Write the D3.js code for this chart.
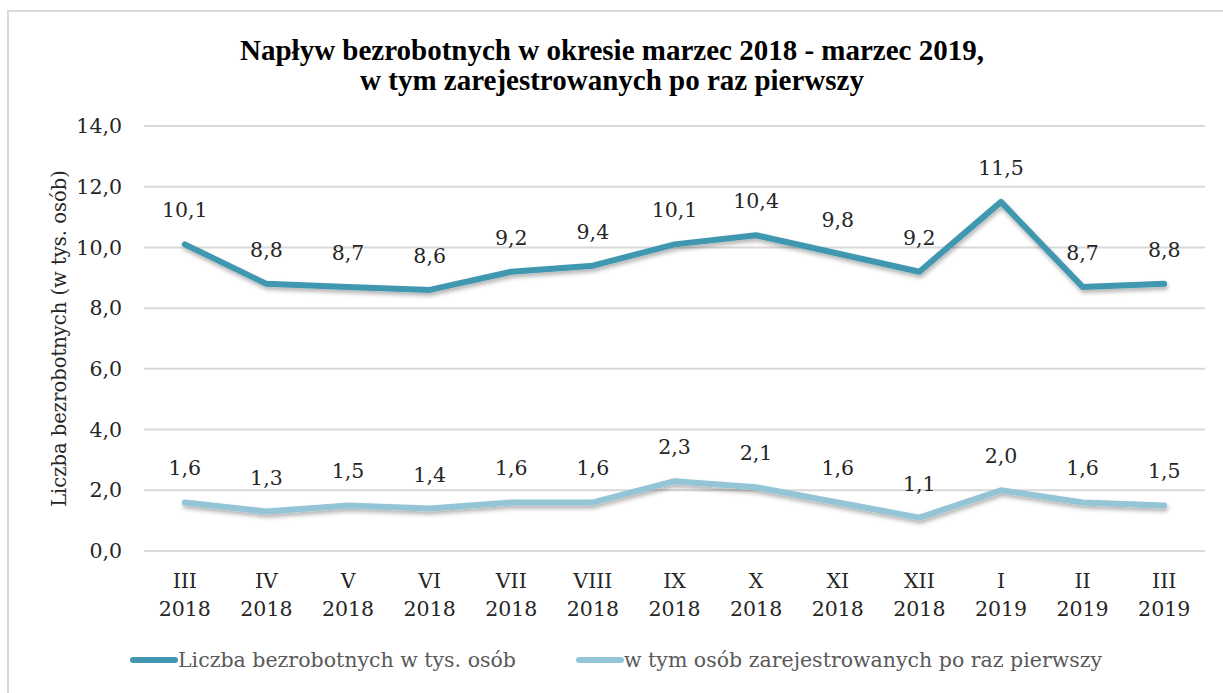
<!DOCTYPE html>
<html>
<head>
<meta charset="utf-8">
<script src="https://cdn.jsdelivr.net/npm/d3@7"></script>
<style>
  body { margin: 0; background: #fff; }
  svg { display: block; }
</style>
</head>
<body>
<svg id="chart"></svg>
<script>
const months = ["III", "IV", "V", "VI", "VII", "VIII", "IX", "X", "XI", "XII", "I", "II", "III"]
const years = ["2018", "2018", "2018", "2018", "2018", "2018", "2018", "2018", "2018", "2018", "2019", "2019", "2019"]
const unemployed = [10.1, 8.8, 8.7, 8.6, 9.2, 9.4, 10.1, 10.4, 9.8, 9.2, 11.5, 8.7, 8.8]
const firstTime = [1.6, 1.3, 1.5, 1.4, 1.6, 1.6, 2.3, 2.1, 1.6, 1.1, 2.0, 1.6, 1.5]
const yTicks = [0, 2, 4, 6, 8, 10, 12, 14]

const darkColour = "#4198b0"
const lightColour = "#93c5d7"
const font = "'DejaVu Serif', serif"

const width = 1223
const height = 693
const margin = {top: 126, right: 18, bottom: 142, left: 144}

const svg = d3.select("#chart")
  .attr("width", width)
  .attr("height", height)

// border of the chart area
svg.append("rect")
  .attr("x", 8).attr("y", 11)
  .attr("width", width + 20).attr("height", height + 20)
  .attr("fill", "none")
  .attr("stroke", "#d9d9d9")
  .attr("stroke-width", 2)

const defs = svg.append("defs")
const shadow = defs.append("filter").attr("id", "shadow")
  .attr("x", "-5%").attr("y", "-20%").attr("width", "110%").attr("height", "160%")
shadow.append("feDropShadow")
  .attr("dx", 1).attr("dy", 3).attr("stdDeviation", 2)
  .attr("flood-color", "#000").attr("flood-opacity", 0.3)

const x = d3.scaleBand()
  .domain(d3.range(months.length))
  .range([margin.left, width - margin.right])

const y = d3.scaleLinear()
  .domain([0, 14])
  .range([height - margin.bottom, margin.top])

const fmt = d => d.toFixed(1).replace(".", ",")

// gridlines
svg.append("g")
  .selectAll("line")
  .data(yTicks)
  .enter().append("line")
  .attr("x1", margin.left)
  .attr("x2", width - margin.right)
  .attr("y1", d => y(d))
  .attr("y2", d => y(d))
  .attr("stroke", "#d9d9d9")
  .attr("stroke-width", 2)

// y tick labels
svg.append("g")
  .selectAll("text")
  .data(yTicks)
  .enter().append("text")
  .attr("x", margin.left - 22)
  .attr("y", d => y(d))
  .attr("dy", "0.35em")
  .attr("text-anchor", "end")
  .attr("font-family", font)
  .attr("font-size", 20.5)
  .attr("fill", "#262626")
  .text(fmt)

// x tick labels
const xLab = svg.append("g")
  .selectAll("text")
  .data(months)
  .enter().append("text")
  .attr("x", (d, i) => x(i) + x.bandwidth() / 2)
  .attr("y", 588)
  .attr("text-anchor", "middle")
  .attr("font-family", font)
  .attr("font-size", 20.5)
  .attr("fill", "#262626")
xLab.append("tspan")
  .attr("x", (d, i) => x(i) + x.bandwidth() / 2)
  .text(d => d)
xLab.append("tspan")
  .attr("x", (d, i) => x(i) + x.bandwidth() / 2)
  .attr("dy", 28)
  .text((d, i) => years[i])

// y axis title
svg.append("text")
  .attr("transform", "translate(66," + y(7) + ") rotate(-90)")
  .attr("text-anchor", "middle")
  .attr("font-family", font)
  .attr("font-size", 19.5)
  .attr("fill", "#262626")
  .text("Liczba bezrobotnych (w tys. osób)")

// title
const title = svg.append("text")
  .attr("text-anchor", "middle")
  .attr("font-family", "'Liberation Serif', serif")
  .attr("font-weight", "bold")
  .attr("font-size", 29)
  .attr("fill", "#000")
title.append("tspan").attr("x", 612).attr("y", 60)
  .text("Napływ  bezrobotnych w okresie marzec 2018 - marzec 2019,")
title.append("tspan").attr("x", 612).attr("y", 90)
  .text("w tym zarejestrowanych po raz pierwszy")

const line = d3.line()
  .x((d, i) => x(i) + x.bandwidth() / 2)
  .y(d => y(d))

const series = [
  {values: firstTime, colour: lightColour},
  {values: unemployed, colour: darkColour}
]

series.forEach(s => {
  svg.append("path")
    .datum(s.values)
    .attr("d", line)
    .attr("fill", "none")
    .attr("stroke", s.colour)
    .attr("stroke-width", 6)
    .attr("stroke-linecap", "round")
    .attr("stroke-linejoin", "round")
    .attr("filter", "url(#shadow)")

  svg.append("g")
    .selectAll("text")
    .data(s.values)
    .enter().append("text")
    .attr("x", (d, i) => x(i) + x.bandwidth() / 2)
    .attr("y", d => y(d) - 27)
    .attr("text-anchor", "middle")
    .attr("font-family", font)
    .attr("font-size", 20.5)
    .attr("fill", "#262626")
    .text(fmt)
})

// legend
const legendItems = [
  {label: "Liczba bezrobotnych w tys. osób", colour: darkColour, x: 133},
  {label: "w tym osób zarejestrowanych po raz pierwszy", colour: lightColour, x: 579}
]
const legend = svg.append("g")
  .selectAll("g")
  .data(legendItems)
  .enter().append("g")
  .attr("transform", d => "translate(" + d.x + ",660)")
legend.append("line")
  .attr("x1", 0).attr("x2", 42)
  .attr("stroke", d => d.colour)
  .attr("stroke-width", 6)
  .attr("stroke-linecap", "round")
legend.append("text")
  .attr("x", 45)
  .attr("dy", "0.35em")
  .attr("font-family", font)
  .attr("font-size", 20.5)
  .attr("fill", "#595959")
  .text(d => d.label)
</script>
</body>
</html>
